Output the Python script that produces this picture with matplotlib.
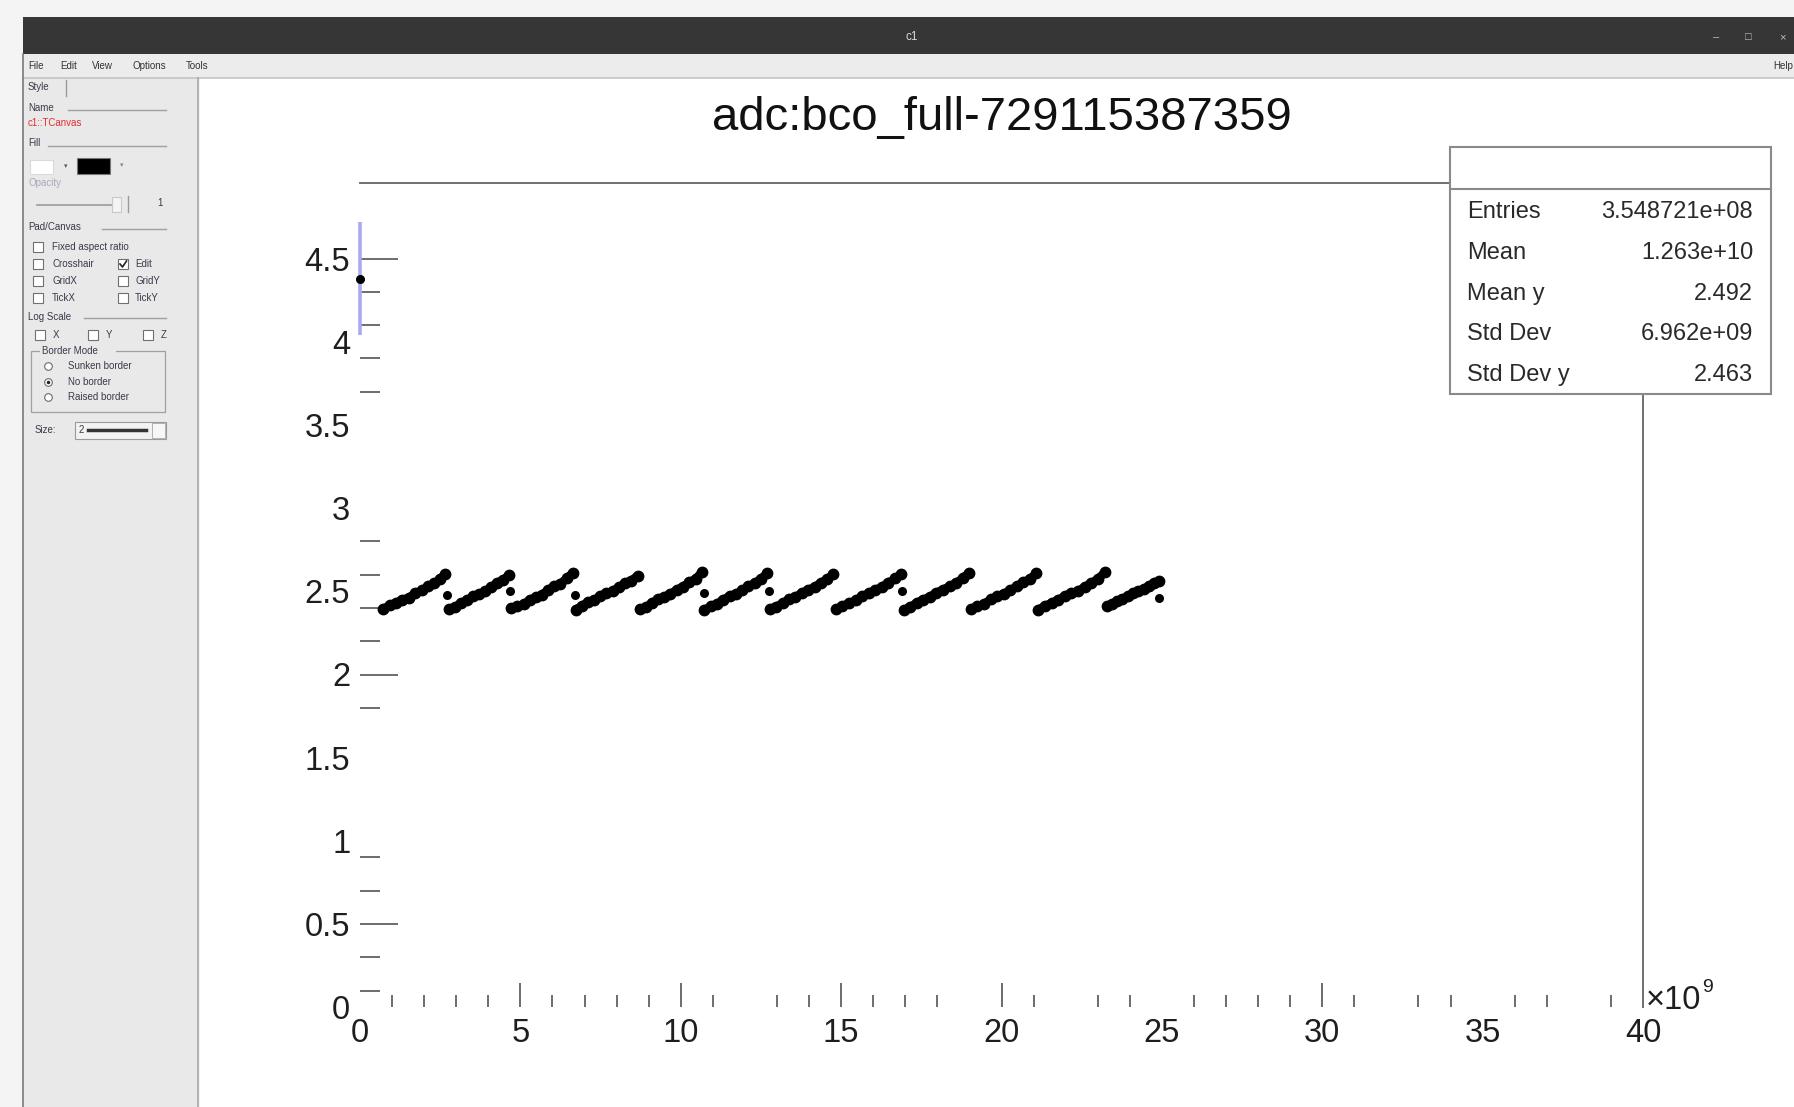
import matplotlib
matplotlib.use("Agg")
import matplotlib.pyplot as plt
from matplotlib.patches import Rectangle
from matplotlib.lines import Line2D

# ---------------------------------------------------------------- data
# x in units of 1e9 (bco_full - 729115387359), y = adc
seg_x = [
    [0.72, 0.92, 1.12, 1.32, 1.52, 1.72, 1.92, 2.12, 2.32, 2.50, 2.66],
    [2.76, 2.95, 3.14, 3.33, 3.52, 3.71, 3.90, 4.09, 4.28, 4.47, 4.66],
    [4.72, 4.91, 5.10, 5.29, 5.48, 5.67, 5.86, 6.05, 6.24, 6.44, 6.64],
    [6.72, 6.91, 7.10, 7.30, 7.49, 7.68, 7.88, 8.07, 8.27, 8.46, 8.66],
    [8.72, 8.91, 9.10, 9.30, 9.49, 9.68, 9.88, 10.07, 10.27, 10.46, 10.66],
    [10.74, 10.94, 11.13, 11.33, 11.52, 11.72, 11.92, 12.11, 12.31, 12.50, 12.70],
    [12.78, 12.98, 13.18, 13.38, 13.57, 13.77, 13.97, 14.17, 14.37, 14.56, 14.76],
    [14.84, 15.04, 15.25, 15.45, 15.66, 15.86, 16.06, 16.27, 16.47, 16.68, 16.88],
    [16.95, 17.15, 17.36, 17.56, 17.77, 17.97, 18.17, 18.38, 18.58, 18.79, 18.99],
    [19.05, 19.25, 19.46, 19.66, 19.86, 20.07, 20.27, 20.47, 20.67, 20.88, 21.08],
    [21.14, 21.35, 21.56, 21.76, 21.97, 22.18, 22.39, 22.60, 22.80, 23.01, 23.22],
    [23.28, 23.44, 23.61, 23.77, 23.94, 24.10, 24.26, 24.43, 24.59, 24.76, 24.92],
]
seg_y = [
    [2.395, 2.415, 2.430, 2.450, 2.462, 2.488, 2.505, 2.530, 2.548, 2.575, 2.605],
    [2.392, 2.405, 2.428, 2.445, 2.470, 2.482, 2.500, 2.525, 2.552, 2.570, 2.600],
    [2.398, 2.410, 2.422, 2.448, 2.465, 2.480, 2.508, 2.530, 2.545, 2.578, 2.612],
    [2.390, 2.412, 2.435, 2.448, 2.470, 2.490, 2.502, 2.525, 2.550, 2.565, 2.595],
    [2.393, 2.405, 2.430, 2.455, 2.468, 2.485, 2.510, 2.528, 2.555, 2.575, 2.615],
    [2.390, 2.410, 2.425, 2.450, 2.472, 2.485, 2.505, 2.532, 2.548, 2.575, 2.610],
    [2.395, 2.408, 2.430, 2.452, 2.465, 2.490, 2.508, 2.526, 2.552, 2.572, 2.605],
    [2.392, 2.412, 2.428, 2.445, 2.470, 2.488, 2.505, 2.528, 2.550, 2.578, 2.602],
    [2.388, 2.405, 2.432, 2.450, 2.468, 2.492, 2.510, 2.530, 2.548, 2.580, 2.612],
    [2.395, 2.410, 2.425, 2.452, 2.470, 2.486, 2.505, 2.530, 2.555, 2.572, 2.608],
    [2.390, 2.412, 2.430, 2.448, 2.472, 2.490, 2.502, 2.528, 2.550, 2.575, 2.615],
    [2.410, 2.425, 2.440, 2.455, 2.470, 2.488, 2.500, 2.515, 2.530, 2.548, 2.565],
]
stray_x = [2.72, 4.69, 6.69, 10.71, 12.74, 16.91, 24.90]
stray_y = [2.48, 2.50, 2.48, 2.49, 2.50, 2.50, 2.46]

first_x, first_y = [0.0], [4.38]
first_err = [0.34]

x_labels = [0, 5, 10, 15, 20, 25, 30, 35, 40]
x_minor = [1, 2, 3, 4, 6, 7, 8, 9, 11, 13, 14, 16, 17, 18, 21, 23, 24,
           26, 27, 28, 29, 31, 33, 34, 36, 37, 39]
x_major = [5, 10, 15, 20, 30]
y_labels = [0, 0.5, 1, 1.5, 2, 2.5, 3, 3.5, 4, 4.5]
y_minor = [0.1, 0.3, 0.7, 0.9, 1.8, 2.2, 2.4, 2.6, 2.8, 3.7, 3.9, 4.1, 4.3]
y_major = [0.5, 2.0, 4.5]

title = "adc:bco_full-729115387359"
stat_names = ["Entries", "Mean", "Mean y", "Std Dev", "Std Dev y"]
stat_values = ["3.548721e+08", "1.263e+10", "2.492", "6.962e+09", "2.463"]

# ---------------------------------------------------------------- figure
W, H, DPI = 1794, 1107, 100
plt.rcParams['font.family'] = ['Liberation Sans', 'DejaVu Sans']
fig = plt.figure(figsize=(W / DPI, H / DPI), dpi=DPI, facecolor='#f4f4f4')


def fx(px):
    return px / W


def fy(py):
    return 1 - py / H


def prect(x0, y0, x1, y1, z=-5, **kw):
    fig.add_artist(Rectangle((fx(x0), fy(y1)), (x1 - x0) / W, (y1 - y0) / H,
                             transform=fig.transFigure, zorder=z, **kw))


def pline(xs, ys, z=-4, **kw):
    fig.add_artist(Line2D([fx(x) for x in xs], [fy(y) for y in ys],
                          transform=fig.transFigure, zorder=z, **kw))


def ptext(x, y, s, **kw):
    fig.text(fx(x), fy(y), s, **kw)


# window frame
prect(23, 17, 1794, 54, facecolor='#363636', edgecolor='none')
prect(23, 54, 1794, 78, facecolor='#ececec', edgecolor='none')
pline([23, 1794], [78, 78], color='#c4c4c4', lw=1.2)
prect(23, 78, 198, 1107, facecolor='#e9e9e9', edgecolor='none')
prect(200, 78, 1794, 1107, facecolor='white', edgecolor='none')
pline([23, 23], [54, 1107], color='#7a7a7a', lw=1.2)
pline([198, 198], [78, 1107], color='#a8a8a8', lw=1.2)

ptext(912, 37, "c1", color='#d8d8d8', fontsize=8.5, ha='center', va='center')
for bx, s in [(1716, "–"), (1748, "□"), (1782, "×")]:
    ptext(bx, 37, s, color='#bdbdbd', fontsize=8, ha='center', va='center')

for mx, s in [(28, "File"), (60, "Edit"), (92, "View"), (132, "Options"), (186, "Tools"), (1773, "Help")]:
    ptext(mx, 66, s, color='#333333', fontsize=7, ha='left', va='center')

# editor side panel
PC = '#3a3a4a'
FS = 7
ptext(28, 87, "Style", color=PC, fontsize=FS, va='center')
pline([66, 66], [80, 96], color='#9a9a9a', lw=1)
ptext(28, 108, "Name", color=PC, fontsize=FS, va='center')
pline([68, 166], [110, 110], color='#a0a0a0', lw=1)
ptext(28, 123, "c1::TCanvas", color='#e03030', fontsize=FS, va='center')
ptext(28, 143, "Fill", color=PC, fontsize=FS, va='center')
pline([48, 166], [146, 146], color='#a0a0a0', lw=1)
prect(30, 160, 53, 174, facecolor='white', edgecolor='#dadada', lw=0.8)
ptext(66, 167, "▾", color='#555', fontsize=5, ha='center', va='center')
prect(77, 158, 110, 174, facecolor='black', edgecolor='#777', lw=0.8)
ptext(122, 166, "▾", color='#888', fontsize=5, ha='center', va='center')
ptext(28, 183, "Opacity", color='#a8a8c0', fontsize=FS, va='center')
pline([37, 118], [205, 205], color='#9a9a9a', lw=1.2)
prect(112, 197, 121, 212, z=-3, facecolor='#f4f4f4', edgecolor='#c8c8c8', lw=0.8)
pline([128, 128], [196, 212], color='#9a9a9a', lw=1)
ptext(160, 203, "1", color=PC, fontsize=FS, ha='center', va='center')
ptext(28, 227, "Pad/Canvas", color=PC, fontsize=FS, va='center')
pline([102, 166], [229, 229], color='#a0a0a0', lw=1)


def checkbox(x, y, checked=False):
    prect(x, y - 5, x + 10, y + 5, z=-3, facecolor='white', edgecolor='#707070', lw=0.8)
    if checked:
        pline([x + 2, x + 4.5, x + 8.5], [y, y + 3, y - 3], z=-2, color='#222', lw=1.2)


checkbox(33, 247)
ptext(52, 247, "Fixed aspect ratio", color=PC, fontsize=FS, va='center')
for yy, a, b, chk in [(264, "Crosshair", "Edit", True), (281, "GridX", "GridY", False),
                      (298, "TickX", "TickY", False)]:
    checkbox(33, yy)
    ptext(52, yy, a, color=PC, fontsize=FS, va='center')
    checkbox(118, yy, chk)
    ptext(135, yy, b, color=PC, fontsize=FS, va='center')
ptext(28, 317, "Log Scale", color=PC, fontsize=FS, va='center')
pline([84, 166], [318, 318], color='#a0a0a0', lw=1)
for cx, s in [(35, "X"), (88, "Y"), (143, "Z")]:
    checkbox(cx, 335)
    ptext(cx + 18, 335, s, color=PC, fontsize=FS, va='center')
prect(31, 351, 165, 412, z=-3, facecolor='none', edgecolor='#a0a0a0', lw=0.9)
prect(40, 345, 116, 357, z=-2, facecolor='#e9e9e9', edgecolor='none')
ptext(42, 351, "Border Mode", color=PC, fontsize=FS, va='center')
for ry, s, sel in [(366, "Sunken border", False), (382, "No border", True), (397, "Raised border", False)]:
    fig.add_artist(Line2D([fx(48)], [fy(ry)], marker='o', ms=5.5, mfc='white', mec='#6a6a6a',
                          mew=0.8, transform=fig.transFigure, zorder=-2))
    if sel:
        fig.add_artist(Line2D([fx(48)], [fy(ry)], marker='o', ms=2.5, mfc='#222', mec='none',
                              transform=fig.transFigure, zorder=-1))
    ptext(68, ry, s, color=PC, fontsize=FS, va='center')
ptext(35, 430, "Size:", color=PC, fontsize=FS, va='center')
prect(75, 422, 166, 439, z=-3, facecolor='#f2f2f2', edgecolor='#9a9a9a', lw=0.8)
ptext(79, 430, "2", color=PC, fontsize=FS, va='center')
pline([88, 146], [430, 430], z=-2, color='#333', lw=2.5)
prect(152, 423, 165, 438, z=-2, facecolor='#f7f7f7', edgecolor='#b0b0b0', lw=0.7)

# ---------------------------------------------------------------- plot
X0, X1, Y0, Y1 = 360, 1643, 1007.2, 183
ax = fig.add_axes([fx(X0), fy(Y0), (X1 - X0) / W, (Y0 - Y1) / H])
ax.set_zorder(2)
ax.set_facecolor('none')
for sp in ax.spines.values():
    sp.set_visible(False)
ax.set_xlim(0, 40)
ax.set_ylim(0, (Y0 - Y1) / 166.35)

TICK_C = '#6c6c6c'
LAB_C = '#1e1e1e'
LFS = 23.5

ax.set_xticks(x_labels)
ax.set_xticklabels([str(v) for v in x_labels])
ax.set_xticks(x_minor, minor=True)
ax.tick_params(axis='x', which='major', length=0, pad=8, labelsize=LFS, labelcolor=LAB_C)
ax.tick_params(axis='x', which='minor', length=8.6, width=1.4, color=TICK_C, direction='in')
ax.set_yticks(y_labels)
ax.set_yticklabels([f"{v:g}" for v in y_labels])
ax.set_yticks(y_minor, minor=True)
ax.tick_params(axis='y', which='major', length=0, pad=7, labelsize=LFS, labelcolor=LAB_C)
ax.tick_params(axis='y', which='minor', length=14.4, width=1.4, color=TICK_C, direction='in')

secx = ax.secondary_xaxis('bottom')
secx.set_xticks(x_major)
secx.tick_params(length=17.3, width=1.4, color=TICK_C, direction='in', labelbottom=False)
secx.spines['bottom'].set_visible(False)
secy = ax.secondary_yaxis('left')
secy.set_yticks(y_major)
secy.tick_params(length=27.4, width=1.4, color=TICK_C, direction='in', labelleft=False)
secy.spines['left'].set_visible(False)

# frame pieces that are visible around the stats box
stat_left = (1450 - X0) / (X1 - X0)
stat_bottom = (Y0 - 394) / (Y0 - Y1)
ax.plot([0, stat_left], [1, 1], transform=ax.transAxes, color='#707070', lw=1.4, clip_on=False)
ax.plot([1, 1], [0, stat_bottom], transform=ax.transAxes, color='#707070', lw=1.4, clip_on=False)

# profile points
for xs, ys in zip(seg_x, seg_y):
    ax.plot(xs, ys, '-', color='black', lw=6.0, solid_capstyle='round')
    ax.plot(xs, ys, 'o', color='black', ms=8.5, mew=0)
ax.plot(stray_x, stray_y, 'o', color='black', ms=6.5, mew=0)
ax.errorbar(first_x, first_y, yerr=[first_err, first_err], fmt='o', color='black', ms=5.5,
            ecolor='#a9a9f2', elinewidth=2.6, capsize=0, clip_on=False, zorder=3)

# x multiplier
ptext(1646, 1009, "×10", fontsize=LFS, color=LAB_C, ha='left', va='baseline')
ptext(1702, 992, "9", fontsize=14, color=LAB_C, ha='left', va='baseline')

# title
ptext(1001.5, 130, title, fontsize=34, color='#111111', ha='center', va='baseline')

# statistics box (drawn above the plot area)
prect(1450, 147, 1771, 394, z=10, facecolor='white', edgecolor='#8a8a8a', lw=1.5)
pline([1450, 1771], [189, 189], z=11, color='#8a8a8a', lw=1.5)
for i, (n, v) in enumerate(zip(stat_names, stat_values)):
    yb = 218 + i * 40.8
    ptext(1467, yb, n, fontsize=17, color='#2a2a2a', ha='left', va='baseline', zorder=12)
    ptext(1753, yb, v, fontsize=17, color='#2a2a2a', ha='right', va='baseline', zorder=12)

fig.savefig("out.png", dpi=DPI, facecolor=fig.get_facecolor())
